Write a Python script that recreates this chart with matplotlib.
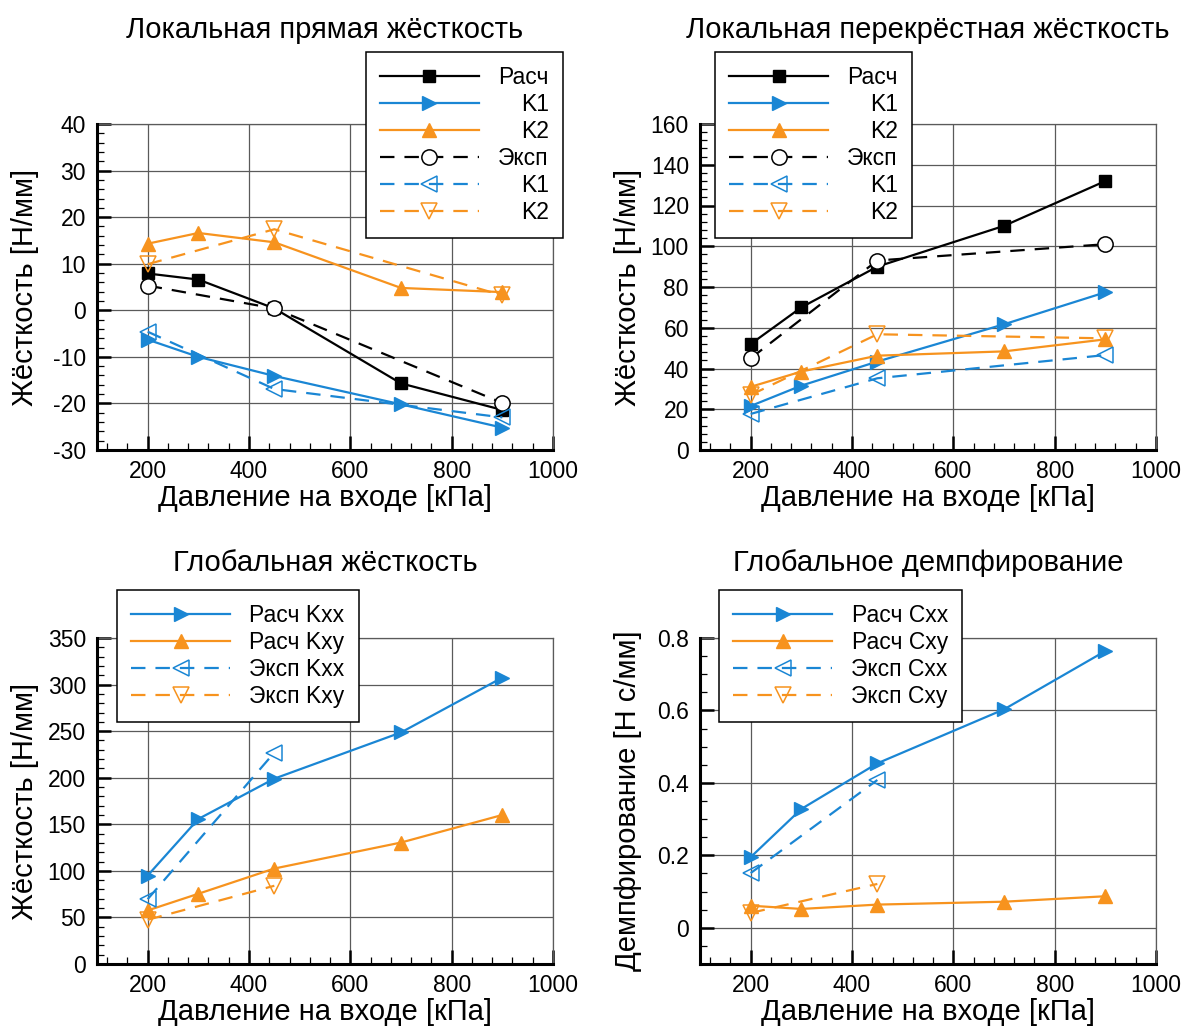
import matplotlib
matplotlib.use("Agg")
import matplotlib.pyplot as plt
from matplotlib.ticker import MultipleLocator, FuncFormatter

plt.rcParams['font.family'] = ['Liberation Sans', 'DejaVu Sans']

BLUE = '#1a86d4'
ORANGE = '#f7931e'
BLACK = '#000000'
GRID = '#5a5a5a'

# ---- data -------------------------------------------------------------
p_calc = [200, 300, 450, 700, 900]
p_exp_full = [200, 450, 900]
p_exp_short = [200, 450]

# local direct stiffness [N/mm]
kd_calc = [7.9, 6.6, 0.4, -15.7, -21.4]
kd_k1_calc = [-6.3, -10.0, -14.1, -20.2, -25.2]
kd_k2_calc = [14.3, 16.6, 14.6, 4.8, 3.9]
kd_exp = [5.3, 0.4, -19.9]
kd_k1_exp = [-4.6, -16.9, -23.0]
kd_k2_exp = [9.9, 17.4, 3.2]

# local cross stiffness [N/mm]
kc_calc = [52, 70, 90, 110, 132]
kc_k1_calc = [21.6, 31.6, 43.4, 61.7, 77.4]
kc_k2_calc = [31.0, 38.5, 46.3, 48.4, 54.3]
kc_exp = [45, 93, 101]
kc_k1_exp = [17.7, 35.2, 46.6]
kc_k2_exp = [27.0, 56.8, 54.8]

# global stiffness [N/mm]
kxx_calc = [95, 155.7, 199, 248.6, 307.5]
kxy_calc = [57.5, 75.4, 102.5, 130.4, 160]
kxx_exp = [69.6, 227]
kxy_exp = [47.5, 84]

# global damping [N s/mm]
cxx_calc = [0.195, 0.328, 0.454, 0.603, 0.764]
cxy_calc = [0.061, 0.052, 0.064, 0.072, 0.087]
cxx_exp = [0.151, 0.408]
cxy_exp = [0.041, 0.121]

titles = ['Локальная прямая жёсткость', 'Локальная перекрёстная жёсткость',
          'Глобальная жёсткость', 'Глобальное демпфирование']
xlabel = 'Давление на входе [кПа]'
ylabels = ['Жёсткость [Н/мм]', 'Жёсткость [Н/мм]', 'Жёсткость [Н/мм]',
           'Демпфирование [Н с/мм]']
local_labels = ['Расч', 'K1', 'K2', 'Эксп', 'K1', 'K2']
kglob_labels = ['Расч Kxx', 'Расч Kxy', 'Эксп Kxx', 'Эксп Kxy']
cglob_labels = ['Расч Cxx', 'Расч Cxy', 'Эксп Cxx', 'Эксп Cxy']

# ---- styles -----------------------------------------------------------
LW = 1.6
DASH = (6.5, 4.5)
MS = 10.5


def calc(ax, x, y, color, marker, label, ms=MS):
    ax.plot(x, y, color=color, lw=LW, marker=marker, ms=ms,
            mfc=color, mec=color, label=label, zorder=3)


def exp(ax, x, y, color, marker, label, face='none'):
    ax.plot(x, y, color=color, lw=LW, dashes=DASH, marker=marker, ms=MS + 0.5,
            mfc=face, mec=color, mew=1.1, label=label, zorder=4)


def style_axes(ax, ylim, ymaj, ymin, title, ylabel, title_pad):
    ax.set_xlim(100, 1000)
    ax.set_ylim(*ylim)
    ax.xaxis.set_major_locator(MultipleLocator(200))
    ax.xaxis.set_minor_locator(MultipleLocator(40))
    ax.yaxis.set_major_locator(MultipleLocator(ymaj))
    ax.yaxis.set_minor_locator(MultipleLocator(ymin))
    ax.yaxis.set_major_formatter(FuncFormatter(lambda v, _: '%g' % round(v, 6)))
    ax.grid(True, which='major', color=GRID, lw=0.9)
    ax.set_axisbelow(True)
    for s in ('left', 'bottom'):
        ax.spines[s].set_linewidth(2.2)
        ax.spines[s].set_color('black')
        ax.spines[s].set_zorder(5)
    for s in ('top', 'right'):
        ax.spines[s].set_linewidth(0.9)
        ax.spines[s].set_color(GRID)
    ax.tick_params(which='both', direction='in', top=False, right=False,
                   labelsize=16.5, colors='black')
    ax.tick_params(which='major', length=10, width=1.8)
    ax.tick_params(which='minor', length=5, width=0.9)
    ax.tick_params(axis='y', which='major', pad=8)
    ax.tick_params(axis='x', which='major', pad=7)
    ax.set_title(title, fontsize=21, pad=title_pad)
    ax.set_xlabel(xlabel, fontsize=21)
    ax.set_ylabel(ylabel, fontsize=21)
    ax.xaxis.set_label_coords(0.5, -0.105)
    ax.yaxis.set_label_coords(-0.128, 0.5)


def add_legend(ax, anchor, loc):
    leg = ax.legend(loc=loc, bbox_to_anchor=anchor, borderaxespad=0,
                    fontsize=16.5, frameon=True, fancybox=False, framealpha=1,
                    edgecolor='black', handlelength=4.3, handletextpad=0.85,
                    labelspacing=0.17, borderpad=0.62, numpoints=1)
    leg.get_frame().set_linewidth(1.1)
    leg.set_zorder(10)
    return leg


def right_align(fig, legends):
    # shift every label so that all labels end at the same x
    fig.canvas.draw()
    r = fig.canvas.get_renderer()
    for leg in legends:
        for col in leg._legend_handle_box.get_children():
            rows = col.get_children()
            widths = [row.get_children()[1]._text.get_window_extent(r).width
                      for row in rows]
            mw = max(widths)
            for row, w in zip(rows, widths):
                row.sep += (mw - w) * 72.0 / fig.dpi


fig = plt.figure(figsize=(11.86, 10.30), dpi=100)
W, H = 1186.0, 1030.0
aw, ah = 456 / W, 326 / H
ax1 = fig.add_axes([97 / W, 1 - 450 / H, aw, ah])
ax2 = fig.add_axes([700 / W, 1 - 450 / H, aw, ah])
ax3 = fig.add_axes([97 / W, 1 - 964 / H, aw, ah])
ax4 = fig.add_axes([700 / W, 1 - 964 / H, aw, ah])

# local direct stiffness
calc(ax1, p_calc, kd_calc, BLACK, 's', local_labels[0], ms=9)
calc(ax1, p_calc, kd_k1_calc, BLUE, '>', local_labels[1])
calc(ax1, p_calc, kd_k2_calc, ORANGE, '^', local_labels[2])
exp(ax1, p_exp_full, kd_exp, BLACK, 'o', local_labels[3], face='white')
exp(ax1, p_exp_full, kd_k1_exp, BLUE, '<', local_labels[4])
exp(ax1, p_exp_full, kd_k2_exp, ORANGE, 'v', local_labels[5])
style_axes(ax1, (-30, 40), 10, 2, titles[0], ylabels[0], 62)

# local cross stiffness
calc(ax2, p_calc, kc_calc, BLACK, 's', local_labels[0], ms=9)
calc(ax2, p_calc, kc_k1_calc, BLUE, '>', local_labels[1])
calc(ax2, p_calc, kc_k2_calc, ORANGE, '^', local_labels[2])
exp(ax2, p_exp_full, kc_exp, BLACK, 'o', local_labels[3], face='white')
exp(ax2, p_exp_full, kc_k1_exp, BLUE, '<', local_labels[4])
exp(ax2, p_exp_full, kc_k2_exp, ORANGE, 'v', local_labels[5])
style_axes(ax2, (0, 160), 20, 4, titles[1], ylabels[1], 62)

# global stiffness
calc(ax3, p_calc, kxx_calc, BLUE, '>', kglob_labels[0])
calc(ax3, p_calc, kxy_calc, ORANGE, '^', kglob_labels[1])
exp(ax3, p_exp_short, kxx_exp, BLUE, '<', kglob_labels[2])
exp(ax3, p_exp_short, kxy_exp, ORANGE, 'v', kglob_labels[3])
style_axes(ax3, (0, 350), 50, 10, titles[2], ylabels[2], 48)

# global damping
calc(ax4, p_calc, cxx_calc, BLUE, '>', cglob_labels[0])
calc(ax4, p_calc, cxy_calc, ORANGE, '^', cglob_labels[1])
exp(ax4, p_exp_short, cxx_exp, BLUE, '<', cglob_labels[2])
exp(ax4, p_exp_short, cxy_exp, ORANGE, 'v', cglob_labels[3])
style_axes(ax4, (-0.1, 0.8), 0.2, 0.05, titles[3], ylabels[3], 48)

legs = [
    add_legend(ax1, (1.022, 1.221), 'upper right'),
    add_legend(ax2, (0.033, 1.221), 'upper left'),
    add_legend(ax3, (0.044, 1.147), 'upper left'),
    add_legend(ax4, (0.042, 1.147), 'upper left'),
]
right_align(fig, legs)

fig.savefig('out.png', dpi=100)
